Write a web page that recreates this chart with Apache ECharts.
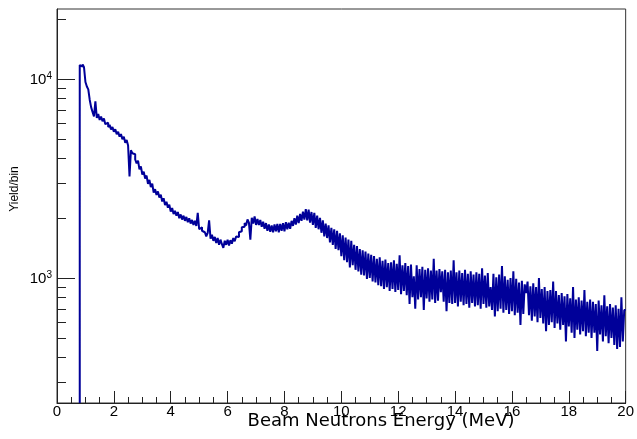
<!DOCTYPE html>
<html>
<head>
<meta charset="utf-8">
<script src="https://cdn.jsdelivr.net/npm/echarts@6/dist/echarts.min.js"></script>
<style>
  html, body { margin: 0; padding: 0; background: #fff; }
  #chart { width: 637px; height: 439px; }
</style>
</head>
<body>
<div id="chart"></div>
<script>
// histogram: first bin low edge and bin width (MeV)
const binLow = 0.8
const binWidth = 0.05

// yield per bin, one row per MeV
const yields = [
  11800, 11600, 11900, 11500, 9700, 9200, 8900, 7900, 7250, 6850, 6500, 7750, 6400, 6700, 6250, 6500, 6150, 6350, 5950, 6050,
  5750, 5900, 5600, 5750, 5450, 5600, 5300, 5450, 5150, 5300, 5000, 5150, 4800, 4950, 4650, 3250, 4400, 4250, 4200, 3950,
  3780, 3900, 3520, 3650, 3320, 3430, 3170, 3280, 2980, 3120, 2870, 2990, 2690, 2800, 2620, 2730, 2540, 2630, 2430, 2520,
  2330, 2420, 2260, 2340, 2160, 2250, 2100, 2180, 2060, 2150, 2000, 2090, 1970, 2060, 1940, 2030, 1910, 2000, 1880, 1960,
  1850, 1940, 1830, 2130, 1760, 1800, 1730, 1700, 1730, 1620, 1690, 1950, 1580, 1650, 1540, 1610, 1500, 1590, 1470, 1560,
  1480, 1420, 1540, 1470, 1560, 1460, 1550, 1490, 1590, 1530, 1620, 1610, 1700, 1720, 1800, 1810, 1890, 1840, 1970, 1900,
  1560, 2010, 1880, 2040, 1850, 1980, 1850, 1960, 1810, 1920, 1770, 1890, 1730, 1860, 1710, 1840, 1700, 1860, 1720, 1870,
  1700, 1870, 1730, 1890, 1720, 1910, 1760, 1900, 1770, 1940, 1830, 2000, 1860, 2060, 1890, 2100, 1940, 2160, 1970, 2220,
  1950, 2210, 1900, 2150, 1850, 2130, 1790, 2060, 1760, 2010, 1690, 1950, 1620, 1880, 1590, 1840, 1510, 1790, 1470, 1760,
  1400, 1730, 1380, 1680, 1290, 1640, 1230, 1600, 1200, 1560, 1130, 1540, 1160, 1470, 1100, 1450, 1080, 1400, 1040, 1380,
  1030, 1360, 990, 1330, 1000, 1310, 960, 1290, 950, 1250, 920, 1270, 910, 1220, 880, 1240, 900, 1190, 860, 1200,
  880, 1230, 850, 1180, 870, 1300, 830, 1160, 860, 1190, 820, 1150, 740, 1170, 800, 1020, 700, 1160, 780, 1110,
  800, 1140, 690, 1100, 790, 1120, 760, 1090, 780, 1250, 750, 1090, 770, 1110, 850, 1080, 760, 1100, 680, 1070,
  750, 1090, 740, 1230, 750, 1070, 720, 1090, 760, 1060, 730, 1100, 740, 1050, 710, 1080, 750, 1040, 720, 1070,
  730, 1050, 700, 1120, 740, 1030, 710, 1060, 720, 900, 690, 1050, 640, 1010, 680, 1040, 700, 1150, 670, 1020,
  690, 980, 660, 1000, 680, 1080, 650, 990, 670, 950, 580, 970, 660, 930, 840, 960, 650, 910, 610, 940,
  640, 900, 600, 1000, 630, 880, 590, 900, 540, 860, 580, 870, 600, 960, 560, 860, 590, 820, 550, 840,
  580, 810, 480, 830, 570, 790, 530, 900, 500, 780, 550, 800, 520, 770, 540, 870, 510, 760, 530, 780,
  500, 760, 530, 740, 430, 770, 520, 730, 480, 820, 510, 720, 470, 740, 500, 710, 460, 730, 440, 700, 450, 800, 480, 690
]

const xRange = [0, 20]
const xStep = 2
const yRange = [235, 22600]
const yMajor = [1000, 10000]
const yMinor = [300, 400, 500, 600, 700, 800, 900, 2000, 3000, 4000, 5000, 6000, 7000, 8000, 9000, 20000]

const xTitle = 'Beam Neutrons Energy (MeV)'
const yTitle = 'Yield/bin'

// step outline: rise from the axis at the first edge, close at the last edge
const points = [[binLow, yRange[0]]]
yields.forEach((v, i) => points.push([+(binLow + i * binWidth).toFixed(2), v]))
points.push([+(binLow + yields.length * binWidth).toFixed(2), yields[yields.length - 1]])

const chart = echarts.init(document.getElementById('chart'), null, { renderer: 'canvas' })

const axisColor = '#222'
const tickFont = 'Liberation Sans'

chart.setOption({
  animation: false,
  backgroundColor: '#fff',
  grid: {
    left: 57,
    right: 1,
    top: 9,
    bottom: 36,
    show: true,
    borderColor: '#333',
    borderWidth: 1,
  },
  xAxis: {
    type: 'value',
    min: xRange[0],
    max: xRange[1],
    interval: xStep,
    axisLine: { show: true, lineStyle: { color: axisColor, width: 1 } },
    axisTick: { show: true, inside: true, length: 12, lineStyle: { color: axisColor } },
    minorTick: { show: true, splitNumber: 4, length: 6, lineStyle: { color: axisColor } },
    axisLabel: {
      margin: 1,
      color: '#000',
      fontFamily: tickFont,
      fontSize: 15,
    },
    splitLine: { show: false },
  },
  yAxis: [
    {
      type: 'log',
      logBase: 10,
      min: yRange[0],
      max: yRange[1],
      axisLine: { show: true, lineStyle: { color: axisColor, width: 1 } },
      axisTick: {
        show: true,
        inside: true,
        length: 18,
        customValues: yMajor,
        lineStyle: { color: axisColor },
      },
      axisLabel: {
        customValues: yMajor,
        margin: 5,
        formatter: (v) => '{b|10}{s|' + Math.round(Math.log10(v)) + '}',
        rich: {
          b: { fontFamily: tickFont, fontSize: 15, color: '#000', lineHeight: 16, verticalAlign: 'bottom' },
          s: { fontFamily: tickFont, fontSize: 10, color: '#000', lineHeight: 16, verticalAlign: 'top' },
        },
      },
      splitLine: { show: false },
    },
    {
      type: 'log',
      logBase: 10,
      min: yRange[0],
      max: yRange[1],
      position: 'left',
      axisLine: { show: false },
      axisTick: {
        show: true,
        inside: true,
        length: 9,
        customValues: yMinor,
        lineStyle: { color: axisColor },
      },
      axisLabel: { show: false },
      splitLine: { show: false },
    },
  ],
  graphic: [
    {
      type: 'text',
      x: 381,
      y: 421,
      style: {
        text: xTitle,
        fontFamily: 'DejaVu Sans',
        fontSize: 18,
        fill: '#000',
        align: 'center',
        verticalAlign: 'middle',
      },
    },
    {
      type: 'text',
      x: 15,
      y: 189,
      rotation: Math.PI / 2,
      style: {
        text: yTitle,
        fontFamily: 'Liberation Sans',
        fontSize: 12,
        fill: '#000',
        align: 'center',
        verticalAlign: 'middle',
      },
    },
  ],
  series: [
    {
      type: 'line',
      yAxisIndex: 0,
      data: points,
      step: 'end',
      symbol: 'none',
      sampling: null,
      clip: true,
      lineStyle: { color: '#000099', width: 2 },
    },
  ],
})
</script>
</body>
</html>
